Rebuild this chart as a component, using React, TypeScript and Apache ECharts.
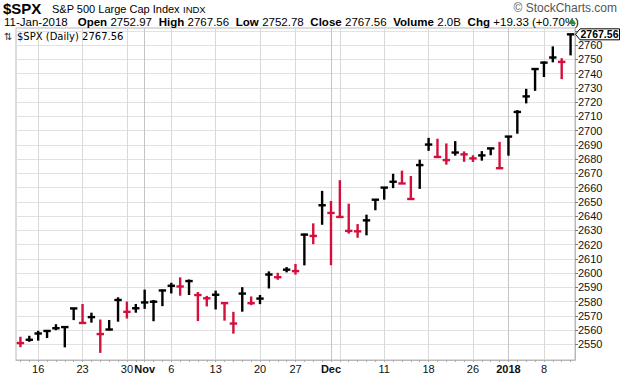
import React, { useEffect, useRef } from 'react';
import * as echarts from 'echarts';

// ---- data ----
const dates = [
  '2017-10-12', '2017-10-13', '2017-10-16', '2017-10-17', '2017-10-18', '2017-10-19', '2017-10-20',
  '2017-10-23', '2017-10-24', '2017-10-25', '2017-10-26', '2017-10-27', '2017-10-30', '2017-10-31',
  '2017-11-01', '2017-11-02', '2017-11-03', '2017-11-06', '2017-11-07', '2017-11-08', '2017-11-09',
  '2017-11-10', '2017-11-13', '2017-11-14', '2017-11-15', '2017-11-16', '2017-11-17', '2017-11-20',
  '2017-11-21', '2017-11-22', '2017-11-24', '2017-11-27', '2017-11-28', '2017-11-29', '2017-11-30',
  '2017-12-01', '2017-12-04', '2017-12-05', '2017-12-06', '2017-12-07', '2017-12-08', '2017-12-11',
  '2017-12-12', '2017-12-13', '2017-12-14', '2017-12-15', '2017-12-18', '2017-12-19', '2017-12-20',
  '2017-12-21', '2017-12-22', '2017-12-26', '2017-12-27', '2017-12-28', '2017-12-29', '2018-01-02',
  '2018-01-03', '2018-01-04', '2018-01-05', '2018-01-08', '2018-01-09', '2018-01-10', '2018-01-11',
];
const highs = [
  2555.3, 2556.0, 2559.5, 2559.7, 2564.1, 2562.4, 2575.4,
  2578.3, 2572.2, 2567.4, 2567.1, 2583.0, 2580.0, 2578.3,
  2588.4, 2581.1, 2588.4, 2593.2, 2597.0, 2595.5, 2586.7,
  2584.0, 2587.7, 2579.7, 2572.8, 2590.1, 2583.6, 2584.6,
  2601.2, 2600.2, 2604.2, 2606.4, 2627.7, 2634.9, 2657.7,
  2650.6, 2665.2, 2648.7, 2634.4, 2641.0, 2651.7, 2660.3,
  2669.7, 2671.9, 2668.1, 2679.6, 2694.9, 2694.3, 2691.0,
  2692.6, 2685.4, 2682.7, 2685.6, 2687.7, 2692.1, 2695.9,
  2714.4, 2729.3, 2743.5, 2748.5, 2759.1, 2750.8, 2767.56,
];
const lows = [
  2548.0, 2551.8, 2552.6, 2554.4, 2559.9, 2547.9, 2567.0,
  2564.3, 2565.2, 2544.0, 2559.8, 2565.9, 2568.1, 2572.2,
  2574.9, 2566.2, 2576.8, 2585.7, 2584.1, 2584.6, 2566.3,
  2576.6, 2574.5, 2566.6, 2557.5, 2572.9, 2577.5, 2578.2,
  2589.2, 2595.3, 2600.5, 2598.9, 2605.4, 2620.3, 2633.9,
  2605.5, 2639.0, 2627.7, 2624.8, 2626.5, 2644.1, 2651.5,
  2659.6, 2662.9, 2652.0, 2659.1, 2685.8, 2680.7, 2676.1,
  2682.4, 2678.1, 2678.0, 2678.9, 2682.7, 2673.6, 2682.4,
  2697.8, 2719.1, 2727.9, 2737.6, 2747.9, 2736.1, 2752.78,
];
const closes = [
  2550.9, 2553.2, 2557.6, 2559.4, 2561.3, 2562.1, 2575.2,
  2565.0, 2569.1, 2557.2, 2560.4, 2581.1, 2572.8, 2575.3,
  2579.4, 2579.9, 2587.8, 2591.1, 2590.6, 2594.4, 2584.6,
  2582.3, 2584.8, 2578.9, 2564.6, 2585.6, 2578.9, 2582.1,
  2599.0, 2597.1, 2602.4, 2601.4, 2627.0, 2626.1, 2647.6,
  2642.2, 2639.4, 2629.6, 2629.3, 2637.0, 2651.5, 2660.0,
  2664.1, 2662.9, 2652.0, 2675.8, 2690.2, 2681.5, 2679.3,
  2684.6, 2683.3, 2680.5, 2682.6, 2687.5, 2673.6, 2695.8,
  2713.1, 2724.0, 2743.2, 2747.7, 2751.3, 2748.2, 2767.56,
];
const priorClose = 2555.2;

const xLabelDates = [
  '2017-10-16', '2017-10-23', '2017-10-30', '2017-11-01', '2017-11-06', '2017-11-13', '2017-11-20',
  '2017-11-27', '2017-12-01', '2017-12-11', '2017-12-18', '2017-12-26', '2018-01-02', '2018-01-08',
];
const xLabelTexts = ['16', '23', '30', 'Nov', '6', '13', '20', '27', 'Dec', '11', '18', '26', '2018', '8'];
const boldLabels = ['Nov', 'Dec', '2018'];
const weekLineDates = [
  '2017-10-16', '2017-10-23', '2017-10-30', '2017-11-06', '2017-11-13', '2017-11-20',
  '2017-11-27', '2017-12-04', '2017-12-11', '2017-12-18', '2017-12-26', '2018-01-08',
];
const monthLineDates = ['2017-11-01', '2017-12-01', '2018-01-02'];
const yGridValues = [
  2550, 2560, 2570, 2580, 2590, 2600, 2610, 2620, 2630, 2640, 2650,
  2660, 2670, 2680, 2690, 2700, 2710, 2720, 2730, 2740, 2750, 2760, 2770,
];
const yLabelValues = [
  2550, 2560, 2570, 2580, 2590, 2600, 2610, 2620, 2630, 2640, 2650,
  2660, 2670, 2680, 2690, 2700, 2710, 2720, 2730, 2740, 2750, 2760,
];

const RED = '#d3103c';
const BLACK = '#000000';
const FONT = '"Liberation Sans", Arial, sans-serif';

export default function App() {
  const ref = useRef<HTMLDivElement>(null);

  useEffect(() => {
    document.body.style.margin = '0';
    if (!ref.current) return;
    const chart = echarts.init(ref.current, undefined, { renderer: 'svg' });

    const seriesData = dates.map((d, i) => {
      const prev = i === 0 ? priorClose : closes[i - 1];
      return [i, highs[i], lows[i], closes[i], closes[i] < prev ? 1 : 0];
    });

    const lastClose = closes[closes.length - 1];

    chart.setOption({
      animation: false,
      textStyle: { fontFamily: FONT },
      grid: {
        left: 16,
        right: 45,
        top: 28,
        bottom: 16,
        show: true,
        borderColor: '#b8b8b8',
        borderWidth: 1,
      },
      xAxis: {
        type: 'category',
        data: dates,
        boundaryGap: true,
        axisLine: { show: true, lineStyle: { color: '#b8b8b8' } },
        axisTick: {
          show: true,
          interval: 0,
          length: 2,
          alignWithLabel: true,
          lineStyle: { color: '#aaaaaa' },
        },
        axisLabel: {
          interval: (index: number, value: string) => xLabelDates.includes(value),
          formatter: (value: string) => {
            const t = xLabelTexts[xLabelDates.indexOf(value)];
            if (t === undefined) return '';
            return boldLabels.includes(t) ? `{b|${t}}` : t;
          },
          margin: 3,
          fontSize: 11,
          color: '#111',
          fontFamily: FONT,
          rich: {
            b: { fontWeight: 'bold', fontSize: 11, color: '#111', fontFamily: FONT },
          },
        },
        splitLine: { show: false },
      },
      yAxis: {
        type: 'value',
        position: 'right',
        min: 2539,
        max: 2772,
        scale: true,
        axisLine: { show: true, lineStyle: { color: '#b8b8b8' } },
        axisTick: { show: true, length: 3, customValues: yGridValues, lineStyle: { color: '#777' } },
        axisLabel: {
          customValues: yLabelValues,
          formatter: (v: number) => String(Math.round(v)),
          margin: 3,
          fontSize: 11,
          lineHeight: 10,
          color: '#111',
          fontFamily: FONT,
        },
        splitLine: { show: true, lineStyle: { color: '#e2e2e2', width: 1 } },
      },
      series: [
        {
          type: 'custom',
          z: 3,
          encode: { x: 0, y: [1, 2, 3] },
          data: seriesData,
          renderItem: (params: any, api: any) => {
            const i = api.value(0);
            const hi = api.coord([i, api.value(1)]);
            const lo = api.coord([i, api.value(2)]);
            const cl = api.coord([i, api.value(3)]);
            const color = api.value(4) > 0 ? RED : BLACK;
            const x = hi[0];
            return {
              type: 'group',
              children: [
                {
                  type: 'line',
                  shape: { x1: x, y1: hi[1], x2: x, y2: lo[1] },
                  style: { stroke: color, lineWidth: 2.4 },
                },
                {
                  type: 'line',
                  shape: { x1: x - 3.7, y1: cl[1], x2: x + 3.7, y2: cl[1] },
                  style: { stroke: color, lineWidth: 2.4 },
                },
              ],
            };
          },
          markLine: {
            silent: true,
            z: 1,
            symbol: ['none', 'none'],
            label: { show: false },
            animation: false,
            data: [
              ...weekLineDates.map((d) => ({ xAxis: d, lineStyle: { color: '#dadada', width: 1, type: 'solid' } })),
              ...monthLineDates.map((d) => ({ xAxis: d, lineStyle: { color: '#c4c4c4', width: 1, type: 'solid' } })),
            ],
          },
        },
      ],
    });

    const py = chart.convertToPixel({ yAxisIndex: 0 }, lastClose) as number;
    const bx = 575.5;

    chart.setOption({
      graphic: [
        // header line 1
        { type: 'text', x: 3, y: 8, z: 100, style: { text: '$SPX', font: `bold 15px ${FONT}`, fill: '#000', verticalAlign: 'middle' } },
        { type: 'text', x: 52, y: 8.5, z: 100, style: { text: 'S&P 500 Large Cap Index', font: `11px ${FONT}`, fill: '#000', verticalAlign: 'middle' } },
        { type: 'text', x: 183, y: 9, z: 100, style: { text: 'INDX', font: `9.5px ${FONT}`, fill: '#000', verticalAlign: 'middle' } },
        { type: 'text', x: 617, y: 8, z: 100, style: { text: '© StockCharts.com', font: `12px ${FONT}`, fill: '#555', align: 'right', verticalAlign: 'middle' } },
        // header line 2
        {
          type: 'text', x: 4, y: 21.5, z: 100,
          style: {
            text: '{r|11-Jan-2018}   {b|Open} {r|2752.97}  {b|High} {r|2767.56}  {b|Low} {r|2752.78}  {b|Close} {r|2767.56}  {b|Volume} {r|2.0B}  {b|Chg} {r|+19.33 (+0.70%)}',
            verticalAlign: 'middle',
            rich: {
              r: { font: `11.5px ${FONT}`, fill: '#000' },
              b: { font: `bold 11.5px ${FONT}`, fill: '#000' },
            },
          },
        },
        { type: 'polygon', z: 100, shape: { points: [[568, 24], [576, 24], [572, 18]] }, style: { fill: '#2e8b37' } },
        // legend inside chart
        { type: 'text', x: 4, y: 36, z: 100, style: { text: '⇅', font: `10px "DejaVu Sans"`, fill: '#333', verticalAlign: 'middle' } },
        { type: 'text', x: 17, y: 36, z: 100, style: { text: '$SPX (Daily) 2767.56', font: `10px "DejaVu Sans"`, fill: '#000', verticalAlign: 'middle' } },
        // last price box
        {
          type: 'polygon', z: 100,
          shape: { points: [[bx, py], [bx + 4.5, py - 5.5], [619.5, py - 5.5], [619.5, py + 5.5], [bx + 4.5, py + 5.5]] },
          style: { fill: '#fff', stroke: '#000', lineWidth: 1 },
        },
        { type: 'text', x: 599.5, y: py, z: 101, style: { text: lastClose.toFixed(2), font: `bold 10.5px ${FONT}`, lineHeight: 9, fill: '#000', align: 'center', verticalAlign: 'middle' } },
      ],
    });

    return () => chart.dispose();
  }, []);

  return <div ref={ref} style={{ width: 620, height: 376 }} />;
}
